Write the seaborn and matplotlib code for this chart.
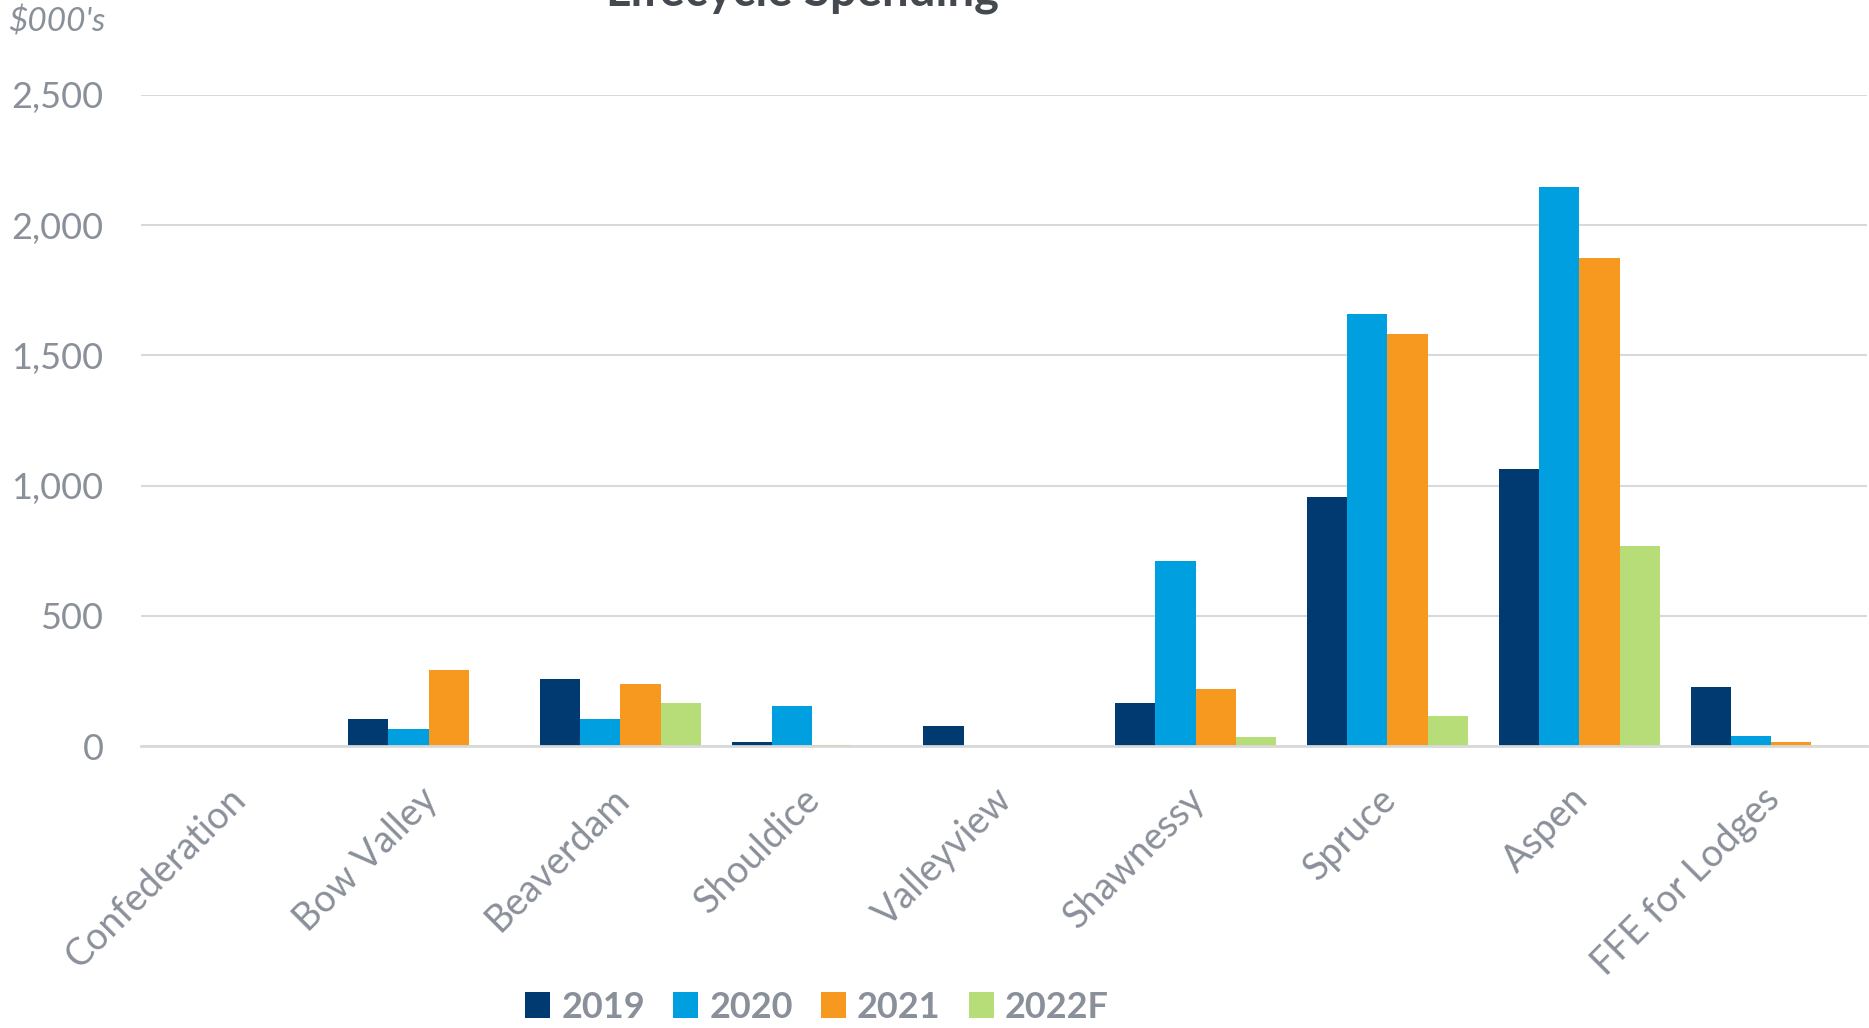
import pandas as pd
import matplotlib.pyplot as plt
import seaborn as sns
from matplotlib.ticker import FixedLocator
from matplotlib.transforms import ScaledTranslation

# Estilo
sns.set_theme(style='white')
plt.rcParams['font.family'] = ['Lato', 'DejaVu Sans']

# Dados ($000's)
sites = ['Confederation', 'Bow Valley', 'Beaverdam', 'Shouldice', 'Valleyview',
         'Shawnessy', 'Spruce', 'Aspen', 'FFE for Lodges']
years = ['2019', '2020', '2021', '2022F']
v2019 = [0, 102, 256, 17, 77, 165, 957, 1062, 225]
v2020 = [0, 64, 104, 152, 0, 710, 1658, 2147, 38]
v2021 = [0, 292, 238, 5, 0, 220, 1584, 1873, 15]
v2022 = [0, 0, 166, 0, 0, 36, 114, 769, 0]
cores = ['#003a70', '#00a0e0', '#f7991f', '#b6dd77']

cinza = '#8a9099'
grade = '#d9d9d9'

df = pd.DataFrame({
    'Site': sites * 4,
    'Ano': sum([[a] * len(sites) for a in years], []),
    'Valor': v2019 + v2020 + v2021 + v2022,
})

fig = plt.figure(figsize=(18.69, 10.28), dpi=100)
ax = fig.add_axes([0.0754, 0.2743, 0.9235, 0.6333])

sns.barplot(data=df, x='Site', y='Valor', hue='Ano', order=sites, hue_order=years,
            palette=cores, saturation=1, width=0.84, gap=0, linewidth=0, ax=ax)

ax.set_xlim(-0.5, 8.5)
ax.set_ylim(0, 2500)
ax.set_yticks([0, 500, 1000, 1500, 2000, 2500])
ax.set_yticklabels(['0', '500', '1,000', '1,500', '2,000', '2,500'])
ax.set_xlabel('')
ax.set_ylabel('')

ax.yaxis.grid(True, color=grade, linewidth=1.5)
ax.set_axisbelow(True)
for lado in ['left', 'right', 'top']:
    ax.spines[lado].set_visible(False)
ax.spines['bottom'].set_color(grade)
ax.spines['bottom'].set_linewidth(2)

ax.tick_params(axis='y', length=0, pad=27, labelsize=26, labelcolor=cinza)
ax.tick_params(axis='x', which='major', length=0, pad=25, labelsize=27, labelcolor=cinza)
ax.xaxis.set_minor_locator(FixedLocator([i - 0.5 for i in range(len(sites) + 1)]))
ax.tick_params(axis='x', which='minor', length=9, width=1.5, color=grade)
desloc = ScaledTranslation(-10 / 100, 0, fig.dpi_scale_trans)
for lab in ax.get_xticklabels():
    lab.set_rotation(45)
    lab.set_ha('right')
    lab.set_rotation_mode('anchor')
    lab.set_transform(lab.get_transform() + desloc)

# Legenda
handles, labels = ax.get_legend_handles_labels()
ax.get_legend().remove()
leg = fig.legend(handles, labels, loc='center', bbox_to_anchor=(817 / 1869, 1 - 1007 / 1028),
                 ncol=4, frameon=False, handlelength=0.7, handleheight=0.7,
                 handletextpad=0.3, columnspacing=0.78,
                 prop={'size': 26, 'weight': 'bold'})
for t in leg.get_texts():
    t.set_color(cinza)

# Titulo (cortado no topo) e unidade
fig.text(802 / 1869, 1 - 6 / 1028, 'Lifecycle Spending', ha='center', va='baseline',
         fontsize=34, fontweight='bold', color='#44494f')
fig.text(8 / 1869, 1 - 22 / 1028, "$000's", ha='left', va='center',
         fontsize=24, fontstyle='italic', color=cinza)

plt.savefig('out.png', dpi=100)
